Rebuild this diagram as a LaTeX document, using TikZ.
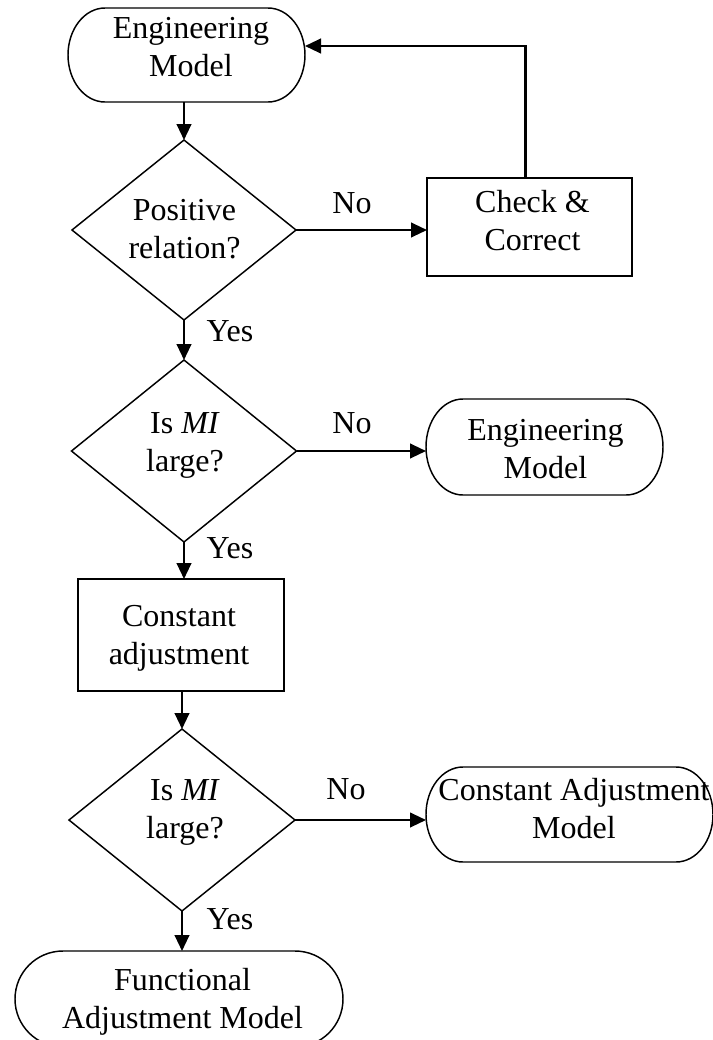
\documentclass[tikz,border=0pt]{standalone}
\usepackage{fontspec}
\setmainfont{Liberation Serif}
\usetikzlibrary{arrows.meta,shapes.geometric}
\tikzset{
  txt/.style={font=\fontsize{24}{28.5}\selectfont, align=center, inner sep=0pt},
  lbl/.style={font=\fontsize{24}{28.5}\selectfont, inner sep=0pt},
  decision/.style={diamond, draw, line width=1.1pt, inner sep=0pt, outer sep=0pt},
  process/.style={rectangle, draw, line width=1.1pt, inner sep=0pt, outer sep=0pt},
  terminal/.style={rectangle, inner sep=0pt, outer sep=0pt},
  shapeline/.style={line width=1.1pt},
  arr/.style={line width=1.6pt, -{Triangle[length=12pt,width=11pt]}},
}
\begin{document}
\begin{tikzpicture}[x=0.75pt,y=0.75pt]
\useasboundingbox (0,0) rectangle (713,-1040);
\fill[white] (0,0) rectangle (713,-1040);
\clip (0,0) rectangle (713,-1040);

% shapes
\node[terminal, minimum width=177.75pt, minimum height=70.5pt] (t1) at (186.5,-55) {};
\node[decision, minimum width=168pt, minimum height=135pt] (d1) at (184,-230) {};
\node[process, minimum width=153.75pt, minimum height=73.5pt] (c1) at (529.5,-227) {};
\node[decision, minimum width=168.75pt, minimum height=136.5pt] (d2) at (184,-451) {};
\node[terminal, minimum width=177.75pt, minimum height=72pt] (t2) at (544.5,-447) {};
\node[process, minimum width=154.5pt, minimum height=84pt] (c2) at (181,-635) {};
\node[decision, minimum width=169.5pt, minimum height=136.5pt] (d3) at (182,-820) {};
\node[terminal, minimum width=215.25pt, minimum height=71.25pt] (t3) at (569.5,-814.5) {};
\node[terminal, minimum width=246pt, minimum height=72pt] (t4) at (179,-999) {};

\foreach \n/\rx/\ry in {t1/37/47, t2/37/48, t3/37/47.5, t4/48/48}
  \draw[shapeline] ([shift={(\rx,0)}]\n.north west) -- ([shift={(-\rx,0)}]\n.north east)
    arc[start angle=90, end angle=-90, x radius=\rx, y radius=\ry]
    -- ([shift={(\rx,0)}]\n.south west)
    arc[start angle=270, end angle=90, x radius=\rx, y radius=\ry] -- cycle;

% texts
\node[txt] (t1t) at (191,-47) {Engineering\\Model};
\node[txt] (d1t) at (184.5,-229) {Positive\\relation?};
\node[txt] (c1t) at (532.5,-221) {Check \&\\Correct};
\node[txt] (d2t) at (185,-445) {Is \textit{MI}\\large?};
\node[txt] (t2t) at (545.5,-449) {Engineering\\Model};
\node[txt] (c2t) at (179,-638) {Constant\\adjustment};
\node[txt] (d3t) at (185,-812) {Is \textit{MI}\\large?};
\node[txt] (t3t) at (574,-809) {Constant Adjustment\\Model};
\node[txt] (t4t) at (182.5,-1002) {Functional\\Adjustment Model};

% connectors
\draw[arr] (d1.north |- t1.south) -- (d1.north);
\draw[arr] (d1.east) -- (d1.east -| c1.west);
\draw[arr] ([shift={(-4,0)}]c1.north) |- ([shift={(0,9)}]t1.east);
\draw[arr] (d1.south) -- (d2.north);
\draw[arr] (d2.east) -- (d2.east -| t2.west);
\draw[arr] (d2.south) -- (d2.south |- c2.north);
\draw[arr] (d3.north |- c2.south) -- (d3.north);
\draw[arr] (d3.east) -- (d3.east -| t3.west);
\draw[arr] (d3.south) -- (d3.south |- t4.north);

% labels
\node[lbl] (no1) at (352,-203) {No};
\node[lbl] (yes1) at (230,-331) {Yes};
\node[lbl] (no2) at (352,-423) {No};
\node[lbl] (yes2) at (230,-548) {Yes};
\node[lbl] (no3) at (346,-789) {No};
\node[lbl] (yes3) at (230,-919) {Yes};
\end{tikzpicture}
\end{document}
